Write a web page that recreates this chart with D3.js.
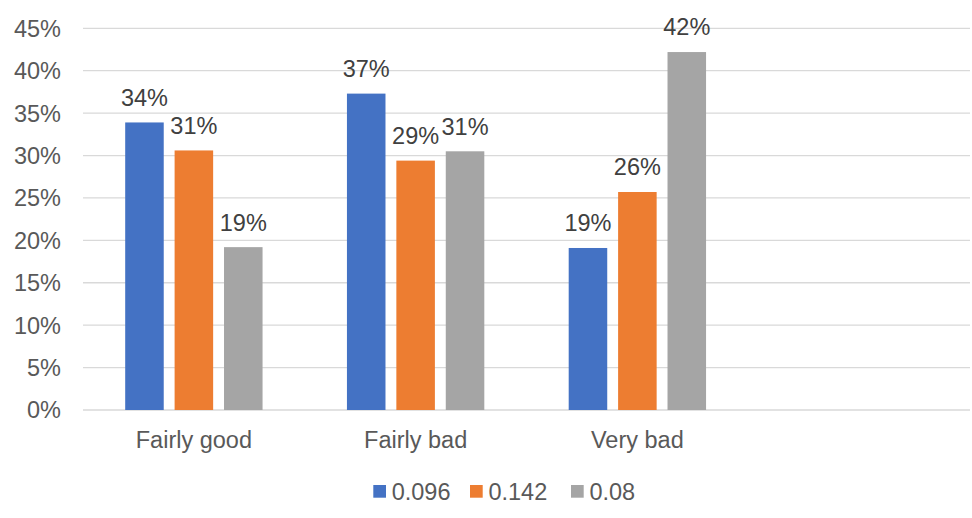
<!DOCTYPE html>
<html><head><meta charset="utf-8">
<script src="https://cdn.jsdelivr.net/npm/d3@7"></script>
<style>body{margin:0;background:#fff}svg{display:block}text{font-family:"Liberation Sans",Arial,sans-serif}</style>
</head><body>
<svg id="c" width="972" height="518"></svg>
<script>
const categories = ["Fairly good", "Fairly bad", "Very bad", ""];
const seriesNames = ["0.096", "0.142", "0.08"];
const s096 = [0.339, 0.373, 0.191, null];
const s142 = [0.306, 0.294, 0.257, null];
const s08  = [0.192, 0.305, 0.422, null];
const seriesValues = [s096, s142, s08];
const colors = ["#4472C4", "#ED7D31", "#A5A5A5"];
const yTicks = [0, 0.05, 0.10, 0.15, 0.20, 0.25, 0.30, 0.35, 0.40, 0.45];

(function () {
const svg = d3.select("#c");
const mLeft = 83, mRight = 970, mTop = 28.3, mBottom = 410;
const x0 = d3.scaleBand().domain(categories).range([mLeft, mRight]).padding(0);
const x1 = d3.scaleBand().domain(seriesNames).range([0, x0.bandwidth()]).paddingInner(0.22).paddingOuter(0.854);
const y = d3.scaleLinear().domain([0, 0.45]).range([mBottom, mTop]);
const pct = d3.format(".0%");

// gridlines
svg.append("g").selectAll("line").data(yTicks).join("line")
  .attr("x1", mLeft).attr("x2", mRight)
  .attr("y1", d => y(d)).attr("y2", d => y(d))
  .attr("stroke", "#D9D9D9").attr("stroke-width", 1.3);

// y labels
svg.append("g").selectAll("text").data(yTicks).join("text")
  .attr("x", 61).attr("y", d => y(d)).attr("dy", "0.36em")
  .attr("text-anchor", "end").attr("font-size", 23.5).attr("fill", "#595959")
  .text(d => pct(d));

// bars
const data = [];
categories.forEach((c, i) => seriesNames.forEach((s, j) => {
  const v = seriesValues[j][i];
  if (v != null) data.push({c, s, v, j});
}));
svg.append("g").selectAll("rect").data(data).join("rect")
  .attr("x", d => x0(d.c) + x1(d.s)).attr("width", x1.bandwidth())
  .attr("y", d => y(d.v)).attr("height", d => y(0) - y(d.v))
  .attr("fill", d => colors[d.j]);

// data labels
svg.append("g").selectAll("text").data(data).join("text")
  .attr("x", d => x0(d.c) + x1(d.s) + x1.bandwidth() / 2)
  .attr("y", d => y(d.v) - 16.6)
  .attr("text-anchor", "middle").attr("font-size", 23.5).attr("fill", "#404040")
  .text(d => pct(d.v));

// x labels
svg.append("g").selectAll("text").data(categories).join("text")
  .attr("x", d => x0(d) + x0.bandwidth() / 2).attr("y", 448)
  .attr("text-anchor", "middle").attr("font-size", 23.5).attr("fill", "#595959")
  .text(d => d);

// legend
const legX = [373.3, 470, 571];
const leg = svg.append("g").selectAll("g").data(seriesNames).join("g")
  .attr("transform", (d, i) => `translate(${legX[i]},0)`);
leg.append("rect").attr("x", 0).attr("y", 485).attr("width", 12.7).attr("height", 12.7)
  .attr("fill", (d, i) => colors[i]);
leg.append("text").attr("x", 18.4).attr("y", 500).attr("font-size", 23.5).attr("fill", "#595959")
  .text(d => d);
})();
</script>
</body></html>
